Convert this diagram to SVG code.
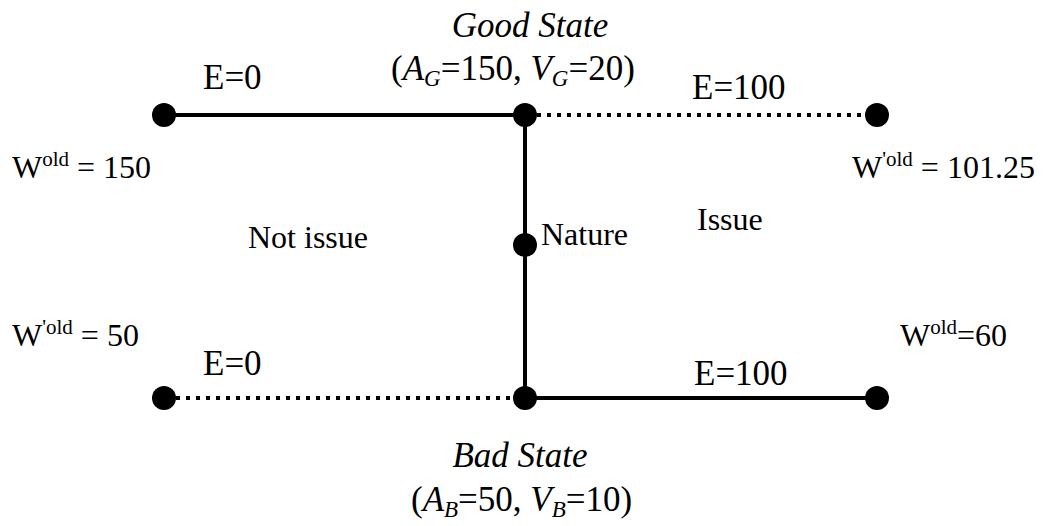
<svg xmlns="http://www.w3.org/2000/svg" width="1043" height="526" viewBox="0 0 1043 526">
<style>
text{font-family:"Liberation Serif","Times New Roman",serif;font-size:32px;fill:#000}
.big{font-size:35px}
.it{font-style:italic}
.sup{font-size:21px}
.sub{font-size:23px;font-style:italic}
.solid{stroke:#000;stroke-width:4;fill:none}
.dot{stroke:#000;stroke-width:4;fill:none;stroke-dasharray:4 6}
circle{fill:#000}
</style>
<rect width="1043" height="526" fill="#fff"/>
<g id="connectors">
<line class="solid" x1="164" y1="115" x2="525" y2="115"/>
<line class="dot" x1="537" y1="115" x2="868" y2="115"/>
<line class="solid" x1="525" y1="115" x2="525" y2="398"/>
<line class="dot" x1="176" y1="398" x2="514" y2="398"/>
<line class="solid" x1="525" y1="398" x2="877" y2="398"/>
</g>
<g id="good"><circle cx="525" cy="115" r="12"/>
<text class="it big" x="530" y="37" text-anchor="middle">Good State</text>
<text class="big" x="391" y="80">(<tspan class="it">A</tspan><tspan class="sub" dy="6">G</tspan><tspan dy="-6">=150, </tspan><tspan class="it">V</tspan><tspan class="sub" dy="6">G</tspan><tspan dy="-6">=20)</tspan></text>
</g>
<g id="bad"><circle cx="525" cy="398" r="12"/>
<text class="it big" x="520" y="467" text-anchor="middle">Bad State</text>
<text class="big" x="411" y="511">(<tspan class="it">A</tspan><tspan class="sub" dy="6">B</tspan><tspan dy="-6">=50, </tspan><tspan class="it">V</tspan><tspan class="sub" dy="6">B</tspan><tspan dy="-6">=10)</tspan></text>
</g>
<g id="nature"><circle cx="525" cy="245" r="12"/>
<text x="541" y="245">Nature</text></g>
<g id="n1"><circle cx="164" cy="115" r="12"/>
<text x="12" y="178">W<tspan class="sup" dy="-12">old</tspan><tspan dy="12"> = 150</tspan></text></g>
<g id="n2"><circle cx="877" cy="115" r="12"/>
<text x="852" y="178">W<tspan class="sup" dy="-12">'old</tspan><tspan dy="12"> = 101.25</tspan></text></g>
<g id="n3"><circle cx="164" cy="398" r="12"/>
<text x="12" y="346">W<tspan class="sup" dy="-12">'old</tspan><tspan dy="12"> = 50</tspan></text></g>
<g id="n4"><circle cx="877" cy="398" r="12"/>
<text x="900" y="346">W<tspan class="sup" dy="-12">old</tspan><tspan dy="12">=60</tspan></text></g>
<g id="labels">
<text class="big" x="203" y="89">E=0</text>
<text class="big" x="692" y="99">E=100</text>
<text x="248" y="248">Not issue</text>
<text x="697" y="230">Issue</text>
<text class="big" x="203" y="375">E=0</text>
<text class="big" x="694" y="385">E=100</text>
</g>
</svg>
